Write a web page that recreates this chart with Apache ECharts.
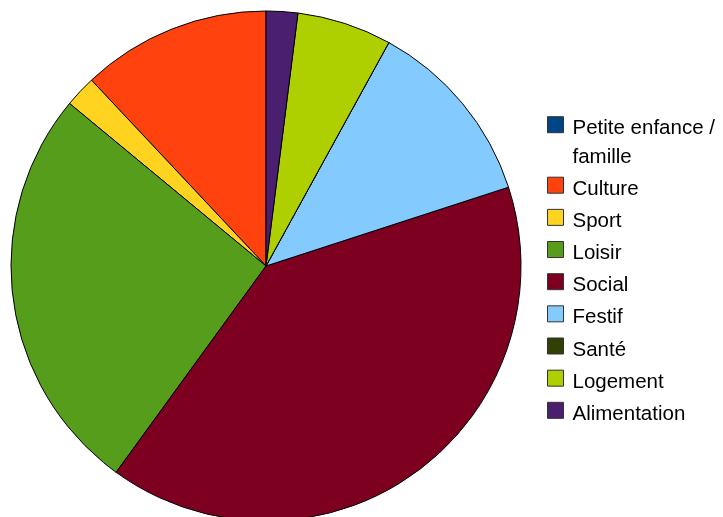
<!DOCTYPE html>
<html>
<head>
<meta charset="utf-8">
<script src="https://cdn.jsdelivr.net/npm/echarts@6/dist/echarts.min.js"></script>
<style>
  html, body { margin: 0; padding: 0; background: #fff; }
  #chart { width: 723px; height: 517px; }
</style>
</head>
<body>
<div id="chart"></div>
<script>
// categories (legend order) and values
var categories = ['Petite enfance / famille', 'Culture', 'Sport', 'Loisir', 'Social', 'Festif', 'Santé', 'Logement', 'Alimentation'];
var values = [0, 6, 1, 13, 20, 6, 0, 3, 1];
var colors = ['#004586', '#ff420e', '#ffd320', '#579d1c', '#7e0021', '#83caff', '#314004', '#aecf00', '#4b1f6f'];

var chart = echarts.init(document.getElementById('chart'));

var pieData = [];
for (var i = 0; i < categories.length; i++) {
    pieData.push({ name: categories[i], value: values[i], itemStyle: { color: colors[i] } });
}

var fontFamily = 'Liberation Sans';
var fontSize = 20.5;

// text token pushed down a little so it sits like the original legend
function tok(lh) {
    return { fontFamily: fontFamily, fontSize: fontSize, color: '#000', lineHeight: lh, padding: [8, 0, 0, 0] };
}

var option = {
    animation: false,
    legend: [{
        // first entry wraps on two lines, empty first line keeps the box aligned with the text
        orient: 'vertical',
        left: 547,
        top: 81.2,
        padding: 0,
        icon: 'rect',
        itemWidth: 16,
        itemHeight: 16,
        data: [categories[0]],
        selectedMode: false,
        itemStyle: { borderColor: '#333', borderWidth: 1 },
        formatter: function () { return '\n{a|Petite enfance /}\n{a|famille}'; },
        textStyle: {
            fontFamily: fontFamily, fontSize: fontSize, color: '#000',
            lineHeight: 29, padding: [0, 0, 0, 4],
            rich: { a: tok(29) }
        }
    }, {
        orient: 'vertical',
        left: 547,
        top: 170.7,
        padding: 0,
        icon: 'rect',
        itemWidth: 16,
        itemHeight: 16,
        itemGap: 3.16,
        data: categories.slice(1),
        selectedMode: false,
        itemStyle: { borderColor: '#333', borderWidth: 1 },
        formatter: function (name) { return '{a|' + name + '}'; },
        textStyle: {
            fontFamily: fontFamily, fontSize: fontSize, color: '#000',
            lineHeight: 22, padding: [0, 0, 0, 4],
            rich: { a: tok(22) }
        }
    }],
    series: [{
        type: 'pie',
        center: [266, 266],
        radius: 255,
        startAngle: 90,
        clockwise: false,
        minAngle: 0,
        label: { show: false },
        labelLine: { show: false },
        emphasis: { disabled: true },
        itemStyle: { borderColor: '#000', borderWidth: 1 },
        data: pieData
    }]
};

chart.setOption(option);
</script>
</body>
</html>
